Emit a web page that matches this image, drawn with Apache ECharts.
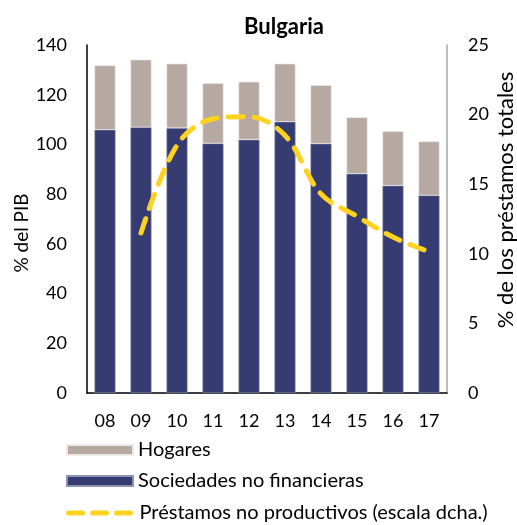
<!DOCTYPE html>
<html>
<head>
<meta charset="utf-8">
<script src="https://cdn.jsdelivr.net/npm/echarts@6/dist/echarts.min.js"></script>
<style>
  html, body { margin: 0; padding: 0; background: #fff; }
  #chart { width: 517px; height: 525px; }
</style>
</head>
<body>
<div id="chart"></div>
<script>
// years (x axis)
const years = ['08', '09', '10', '11', '12', '13', '14', '15', '16', '17'];
// % del PIB
const sociedades = [105.9, 106.9, 106.6, 100.4, 101.9, 109.1, 100.3, 88.2, 83.4, 79.5];
const hogares = [25.9, 27.2, 25.9, 24.2, 23.3, 23.4, 23.5, 22.7, 21.9, 21.7];
// % de los préstamos totales (escala dcha.)
const prestamosNP = [null, 11.5, 17.8, 19.7, 19.85, 18.5, 14.3, 12.7, 11.2, 10.15];

const font = 'Lato';
const yellow = '#ffd21f';
const chart = echarts.init(document.getElementById('chart'));

// one legend per row so they stack tightly
const legendRow = (name, top, extra) => Object.assign({
  orient: 'horizontal',
  left: 66,
  top: top,
  itemWidth: 66,
  itemHeight: 10,
  padding: 0,
  textStyle: { fontFamily: font, fontSize: 20, color: '#000', padding: [0, 0, 0, 0] },
  data: [name],
}, extra || {});

const option = {
  animation: false,
  textStyle: { fontFamily: font },
  title: {
    text: 'Bulgaria',
    left: 279,
    top: 11,
    textAlign: 'center',
    textStyle: { fontFamily: font, fontSize: 22, fontWeight: 'bold', color: '#000' },
  },
  grid: { left: 87, right: 70, top: 45, bottom: 132 },
  legend: [
    legendRow('Hogares', 440, { data: [{ name: 'Hogares', icon: 'rect' }] }),
    legendRow('Sociedades no financieras', 471, { data: [{ name: 'Sociedades no financieras', icon: 'rect' }] }),
    legendRow('Préstamos no productivos (escala dcha.)', 503, {
      data: [{
        name: 'Préstamos no productivos (escala dcha.)',
        itemStyle: { opacity: 0 },
        lineStyle: { color: yellow, width: 5, type: [14, 10], cap: 'round' },
      }],
    }),
  ],
  xAxis: {
    type: 'category',
    data: years,
    axisTick: { show: false },
    axisLine: { lineStyle: { color: '#000', width: 1.5 } },
    axisLabel: { fontFamily: font, fontSize: 18, color: '#000', margin: 19 },
  },
  yAxis: [
    {
      type: 'value',
      min: 0,
      max: 140,
      interval: 20,
      splitLine: { show: false },
      axisLine: { show: true, lineStyle: { color: '#000', width: 1.5 } },
      axisTick: { show: false },
      axisLabel: { fontFamily: font, fontSize: 18, color: '#000', margin: 20 },
    },
    {
      type: 'value',
      min: 0,
      max: 25,
      interval: 5,
      splitLine: { show: false },
      axisLine: { show: true, lineStyle: { color: '#a6a6a6', width: 1.5 } },
      axisTick: { show: false },
      axisLabel: { fontFamily: font, fontSize: 18, color: '#000', margin: 21 },
    },
  ],
  // axis names placed as rotated text
  graphic: [
    {
      type: 'text',
      x: 22, y: 233,
      rotation: Math.PI / 2,
      style: { text: '% del PIB', font: '19px Lato', fill: '#000', align: 'center', verticalAlign: 'middle' },
    },
    {
      type: 'text',
      x: 506, y: 200,
      rotation: Math.PI / 2,
      style: { text: '% de los préstamos totales', font: '22px Lato', fill: '#000', align: 'center', verticalAlign: 'middle' },
    },
  ],
  series: [
    {
      name: 'Sociedades no financieras',
      type: 'bar',
      stack: 'total',
      barWidth: 21,
      data: sociedades,
      itemStyle: { color: '#363c72', borderColor: '#8c90b5', borderWidth: 0.6 },
    },
    {
      name: 'Hogares',
      type: 'bar',
      stack: 'total',
      barWidth: 21,
      data: hogares,
      itemStyle: { color: '#b6a9a1', borderColor: '#efe9e6', borderWidth: 0.6 },
    },
    {
      name: 'Préstamos no productivos (escala dcha.)',
      type: 'line',
      yAxisIndex: 1,
      data: prestamosNP,
      smooth: 0.35,
      symbol: 'none',
      connectNulls: false,
      lineStyle: { color: yellow, width: 5, type: [15, 11], cap: 'round' },
      itemStyle: { color: yellow },
      z: 5,
    },
  ],
};

chart.setOption(option);
</script>
</body>
</html>
